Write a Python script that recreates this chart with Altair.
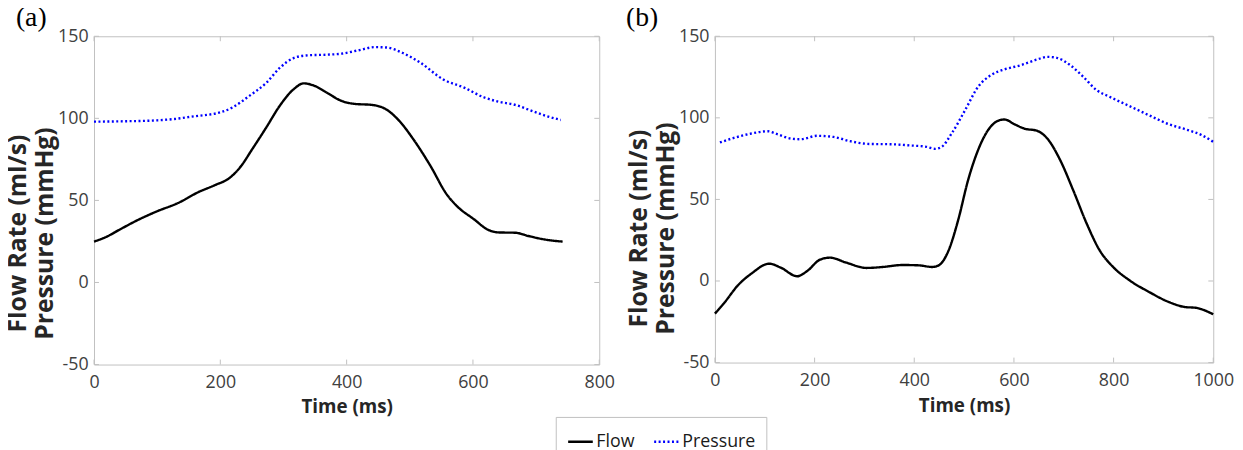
import altair as alt
import pandas as pd

# ---------------- Panel (a) ----------------
a_flow_t = [0, 19, 41, 68, 100, 133, 165, 192, 214, 230, 251, 273, 294, 316, 332, 348, 370, 392,
            413, 440, 462, 483, 505, 532, 559, 575, 602, 623, 640, 667, 688, 715, 742]
a_flow_v = [24.9, 27.7, 32.3, 37.8, 43.4, 48.4, 55.0, 59.4, 63.5, 69.5, 81.5, 94.6, 107.6, 117.7,
            121.3, 120.0, 115.3, 110.6, 108.8, 108.2, 105.6, 98.6, 87.6, 71.5, 53.4, 46.4, 38.4,
            32.3, 30.5, 30.3, 28.3, 26.1, 24.9]
a_pres_t = [0, 46, 100, 127, 154, 203, 219, 246, 273, 294, 316, 338, 370, 392, 418, 445, 462, 489,
            516, 553, 586, 618, 640, 667, 693, 715, 739]
a_pres_v = [98.0, 98.2, 98.8, 99.6, 101.0, 104.0, 106.6, 113.7, 121.7, 130.7, 136.7, 138.4, 138.8,
            139.4, 141.4, 143.4, 143.2, 139.8, 134.1, 123.7, 118.7, 112.7, 110.2, 108.2, 104.6,
            101.6, 99.0]

# ---------------- Panel (b) ----------------
b_flow_t = [0, 20, 46, 73, 109, 132, 165, 185, 211, 231, 264, 304, 337, 376, 409, 436, 449, 469,
            488, 508, 528, 548, 568, 581, 601, 620, 647, 667, 693, 719, 746, 772, 799, 832, 871,
            911, 944, 964, 1000]
b_flow_v = [-20.0, -12.9, -2.7, 4.5, 10.6, 8.2, 2.9, 6.1, 13.1, 14.3, 11.2, 8.0, 8.6, 9.8, 9.6,
            8.6, 9.6, 18.8, 37.2, 61.8, 80.2, 92.4, 98.2, 99.0, 96.1, 93.5, 92.0, 87.3, 74.0,
            55.6, 35.2, 18.8, 8.6, 0.4, -6.7, -12.9, -16.0, -16.4, -20.4]
b_pres_t = [10, 40, 73, 106, 125, 152, 172, 205, 238, 271, 310, 356, 396, 422, 442, 455, 475, 502,
            528, 554, 581, 614, 647, 667, 686, 713, 739, 766, 792, 832, 871, 911, 944, 977, 1000]
b_pres_v = [84.9, 87.9, 90.4, 91.8, 90.0, 87.3, 86.9, 89.0, 88.3, 85.7, 84.0, 83.8, 83.0, 82.4,
            81.0, 82.2, 90.4, 104.7, 119.0, 126.2, 129.7, 132.3, 135.8, 137.4, 136.8, 132.3,
            125.2, 117.0, 112.9, 107.2, 101.6, 96.1, 93.0, 89.4, 85.3]

series_names = ["Flow", "Pressure"]
y_ticks = [-50, 0, 50, 100, 150]
a_x_ticks = [0, 200, 400, 600, 800]
b_x_ticks = [0, 200, 400, 600, 800, 1000]


def frame_df(ts, vs, name):
    return pd.DataFrame({"t": ts, "v": vs, "series": name})


FONT = "Open Sans"
GRAY = "#c0c0c0"
LABEL_COLOR = "#404040"
TITLE_COLOR = "#262626"
HYPHEN_LABEL = "datum.value < 0 ? '-' + abs(datum.value) : '' + datum.value"

legend = alt.Legend(
    orient="none", legendX=467, legendY=385, direction="horizontal", title=None,
    symbolType="stroke", symbolSize=620, symbolStrokeWidth=2.5,
    labelFont=FONT, labelFontSize=18, labelColor="#1a1a1a", labelOffset=2,
    strokeColor=GRAY, fillColor="white", padding=11, columnPadding=14,
)


def panel(flow_t, flow_v, pres_t, pres_v, x_ticks, x_max, w, h, label, title_x, title_y, toff, tdx):
    data = pd.concat([frame_df(flow_t, flow_v, "Flow"), frame_df(pres_t, pres_v, "Pressure")])
    xs = alt.Scale(domain=[0, x_max], nice=False, zero=False)
    ys = alt.Scale(domain=[-50, 150], nice=False, zero=False)
    x_axis = alt.Axis(
        values=x_ticks, title="Time (ms)", labelPadding=9, format="d", labelFlush=False,
        grid=False, domain=False, ticks=False,
        labelFont=FONT, labelFontSize=18, labelColor=LABEL_COLOR,
        titleFont=FONT, titleFontWeight="bold", titleColor=TITLE_COLOR, titleFontSize=19,
        titleY=34, titleBaseline="top")
    y_axis = alt.Axis(
        values=y_ticks, title=["Flow Rate (ml/s)", "Pressure (mmHg)"], labelPadding=6,
        labelExpr=HYPHEN_LABEL,
        grid=False, domain=False, ticks=False,
        labelFont=FONT, labelFontSize=18, labelColor=LABEL_COLOR,
        titleFont=FONT, titleFontWeight="bold", titleColor=TITLE_COLOR, titleFontSize=25,
        titleLineHeight=27, titleX=title_x, titleY=title_y,
        titleAngle=270, titleBaseline="bottom", titleAlign="center")
    lines = alt.Chart(data).mark_line(strokeWidth=2.4, interpolate="monotone").encode(
        x=alt.X("t:Q", scale=xs, axis=x_axis),
        y=alt.Y("v:Q", scale=ys, axis=y_axis),
        color=alt.Color("series:N", scale=alt.Scale(domain=series_names,
                                                     range=["#000000", "#0000ff"]), legend=legend),
        strokeDash=alt.StrokeDash("series:N", scale=alt.Scale(domain=series_names,
                                                               range=[[1, 0], [2, 2.5]]), legend=legend),
        order="t:Q",
    )
    xt = pd.DataFrame({"t": x_ticks})
    yt = pd.DataFrame({"v": y_ticks})
    xb = alt.Chart(xt).mark_rule(color=GRAY).encode(x=alt.X("t:Q", scale=xs), y=alt.value(h), y2=alt.value(h - 5))
    xtop = alt.Chart(xt).mark_rule(color=GRAY).encode(x=alt.X("t:Q", scale=xs), y=alt.value(0), y2=alt.value(5))
    yl = alt.Chart(yt).mark_rule(color=GRAY).encode(y=alt.Y("v:Q", scale=ys), x=alt.value(0), x2=alt.value(5))
    yr = alt.Chart(yt).mark_rule(color=GRAY).encode(y=alt.Y("v:Q", scale=ys), x=alt.value(w), x2=alt.value(w - 5))
    return alt.layer(xb, xtop, yl, yr, lines).properties(
        width=w, height=h,
        title=alt.TitleParams(label, anchor="start", frame="bounds", font="Liberation Serif",
                              fontSize=28, fontWeight="normal", color="black", offset=toff, dx=tdx),
    )


pa = panel(a_flow_t, a_flow_v, a_pres_t, a_pres_v, a_x_ticks, 800, 511, 332, "(a)", -64, 199, -5, 10)
pb = panel(b_flow_t, b_flow_v, b_pres_t, b_pres_v, b_x_ticks, 1000, 504, 330, "(b)", -64, 194, -5, -1)

chart = alt.hconcat(pa, pb, spacing=10).properties(
    padding={"left": -3, "top": -7, "right": 0, "bottom": 0}
).configure(background="white").configure_view(stroke=GRAY, strokeWidth=1)

chart.save("out.html", embed_options={"renderer": "svg", "actions": False})
